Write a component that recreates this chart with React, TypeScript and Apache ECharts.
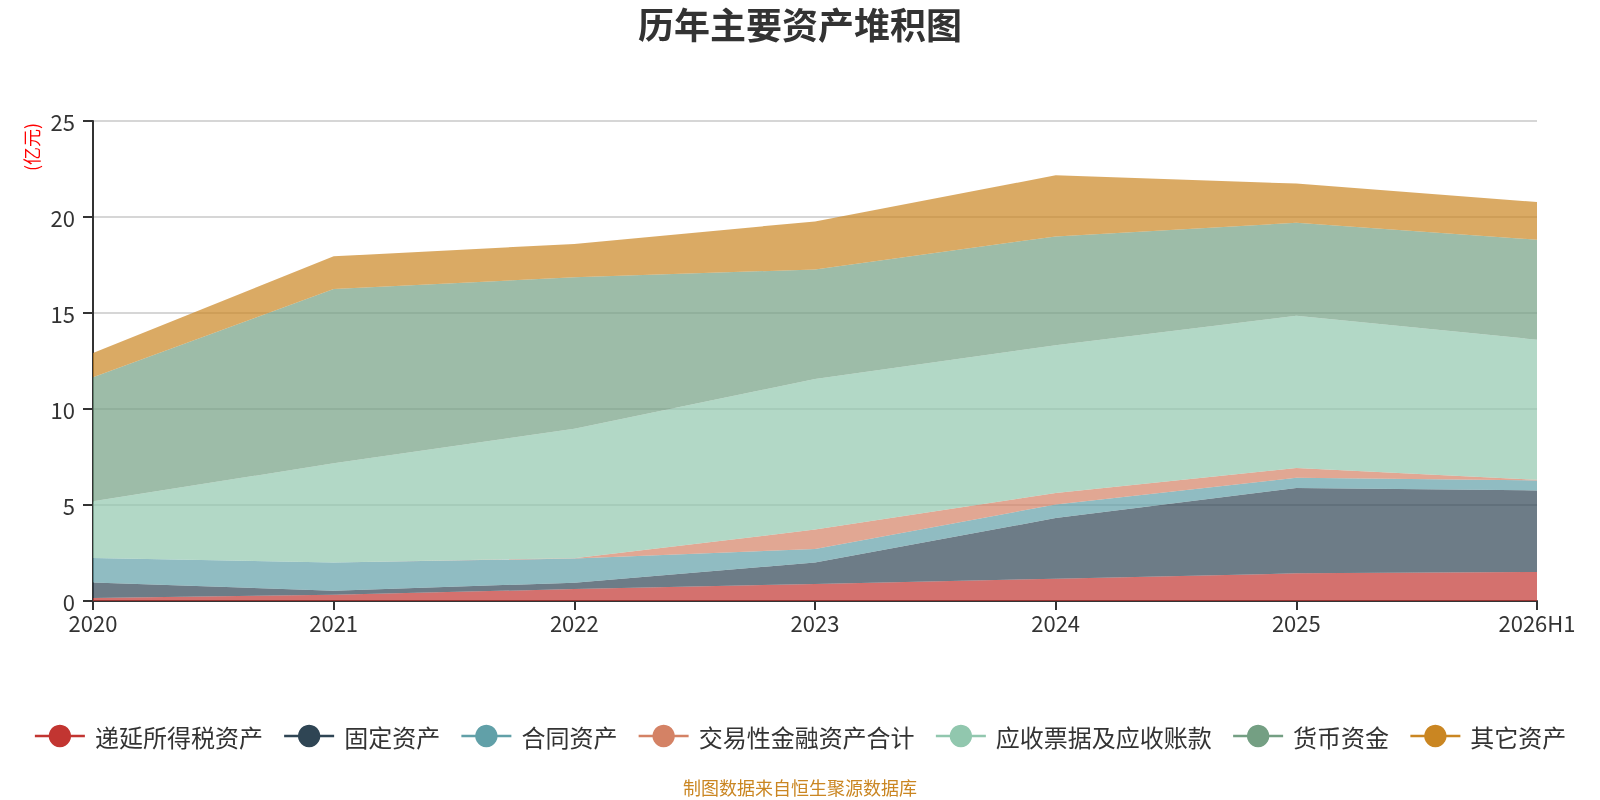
import React, { useEffect, useRef } from "react";
import * as echarts from "echarts";

const categories = ["2020", "2021", "2022", "2023", "2024", "2025", "2026H1"];
const seriesNames = ["递延所得税资产", "固定资产", "合同资产", "交易性金融资产合计", "应收票据及应收账款", "货币资金", "其它资产"];
const deferredTax = [0.16, 0.33, 0.62, 0.89, 1.16, 1.44, 1.51];
const fixedAssets = [0.81, 0.21, 0.33, 1.11, 3.16, 4.45, 4.25];
const contractAssets = [1.27, 1.47, 1.26, 0.71, 0.71, 0.53, 0.52];
const tradingFinancial = [0, 0, 0.02, 1.01, 0.6, 0.51, 0.03];
const receivables = [2.95, 5.16, 6.74, 7.84, 7.69, 7.93, 7.3];
const cash = [6.46, 9.08, 7.89, 5.71, 5.67, 4.84, 5.21];
const otherAssets = [1.27, 1.7, 1.74, 2.5, 3.18, 2.04, 1.96];
const yTicks = { min: 0, max: 25, interval: 5 };
const colors = ["#c23531", "#2f4554", "#61a0a8", "#d48265", "#91c7ae", "#749f83", "#ca8622"];

const FONT = "'Noto Sans CJK SC', 'Noto Sans', sans-serif";

export default function App() {
  const ref = useRef<HTMLDivElement>(null);
  useEffect(() => {
    if (!ref.current) return;
    const chart = echarts.init(ref.current, null, { renderer: "svg" });
    const dataSets = [deferredTax, fixedAssets, contractAssets, tradingFinancial, receivables, cash, otherAssets];
    chart.setOption({
      animation: false,
      color: colors,
      textStyle: { fontFamily: FONT },
      title: {
        text: "历年主要资产堆积图",
        left: "center",
        top: 5,
        padding: 0,
        textStyle: { fontSize: 36, fontWeight: "bold", color: "#333", fontFamily: FONT },
      },
      grid: { left: 93, right: 63, top: 121, bottom: 199, containLabel: false },
      legend: {
        top: 719,
        left: "center",
        itemWidth: 50,
        itemHeight: 28,
        itemGap: 20,
        data: seriesNames,
        textStyle: { fontSize: 24, color: "#333", fontFamily: FONT, padding: [0, 0, 0, 5] },
        lineStyle: { width: 2.5, opacity: 1 },
      },
      graphic: [
        {
          type: "text",
          x: 31,
          y: 147,
          rotation: Math.PI / 2,
          style: {
            text: "(亿元)",
            fill: "#ff0000",
            fontSize: 18,
            fontFamily: FONT,
            textAlign: "center",
            textVerticalAlign: "middle",
          },
        },
        {
          type: "text",
          x: 800,
          y: 787,
          style: {
            text: "制图数据来自恒生聚源数据库",
            fill: "#ca8622",
            fontSize: 18,
            fontFamily: FONT,
            textAlign: "center",
            textVerticalAlign: "middle",
          },
        },
      ],
      xAxis: {
        type: "category",
        data: categories,
        boundaryGap: false,
        axisLine: { lineStyle: { color: "#333", width: 2 } },
        axisTick: { lineStyle: { color: "#333", width: 2 }, length: 9 },
        axisLabel: { fontSize: 22, color: "#333", margin: 10, fontFamily: FONT },
        splitLine: { show: false },
      },
      yAxis: {
        type: "value",
        min: yTicks.min,
        max: yTicks.max,
        interval: yTicks.interval,
        axisLine: { show: true, lineStyle: { color: "#333", width: 2 } },
        axisTick: { show: true, lineStyle: { color: "#333", width: 2 }, length: 10 },
        axisLabel: { fontSize: 22, color: "#333", margin: 18, fontFamily: FONT },
        splitLine: { show: true, lineStyle: { color: "#c8c8c8", width: 1.5 } },
      },
      series: seriesNames.map((name, i) => ({
        name,
        type: "line",
        stack: "total",
        data: dataSets[i],
        symbol: "circle",
        showSymbol: false,
        lineStyle: { width: 0 },
        areaStyle: { opacity: 0.7 },
        emphasis: { disabled: true },
      })),
    });
    return () => chart.dispose();
  }, []);
  return <div ref={ref} style={{ position: "fixed", left: 0, top: 0, width: 1600, height: 800 }} />;
}
